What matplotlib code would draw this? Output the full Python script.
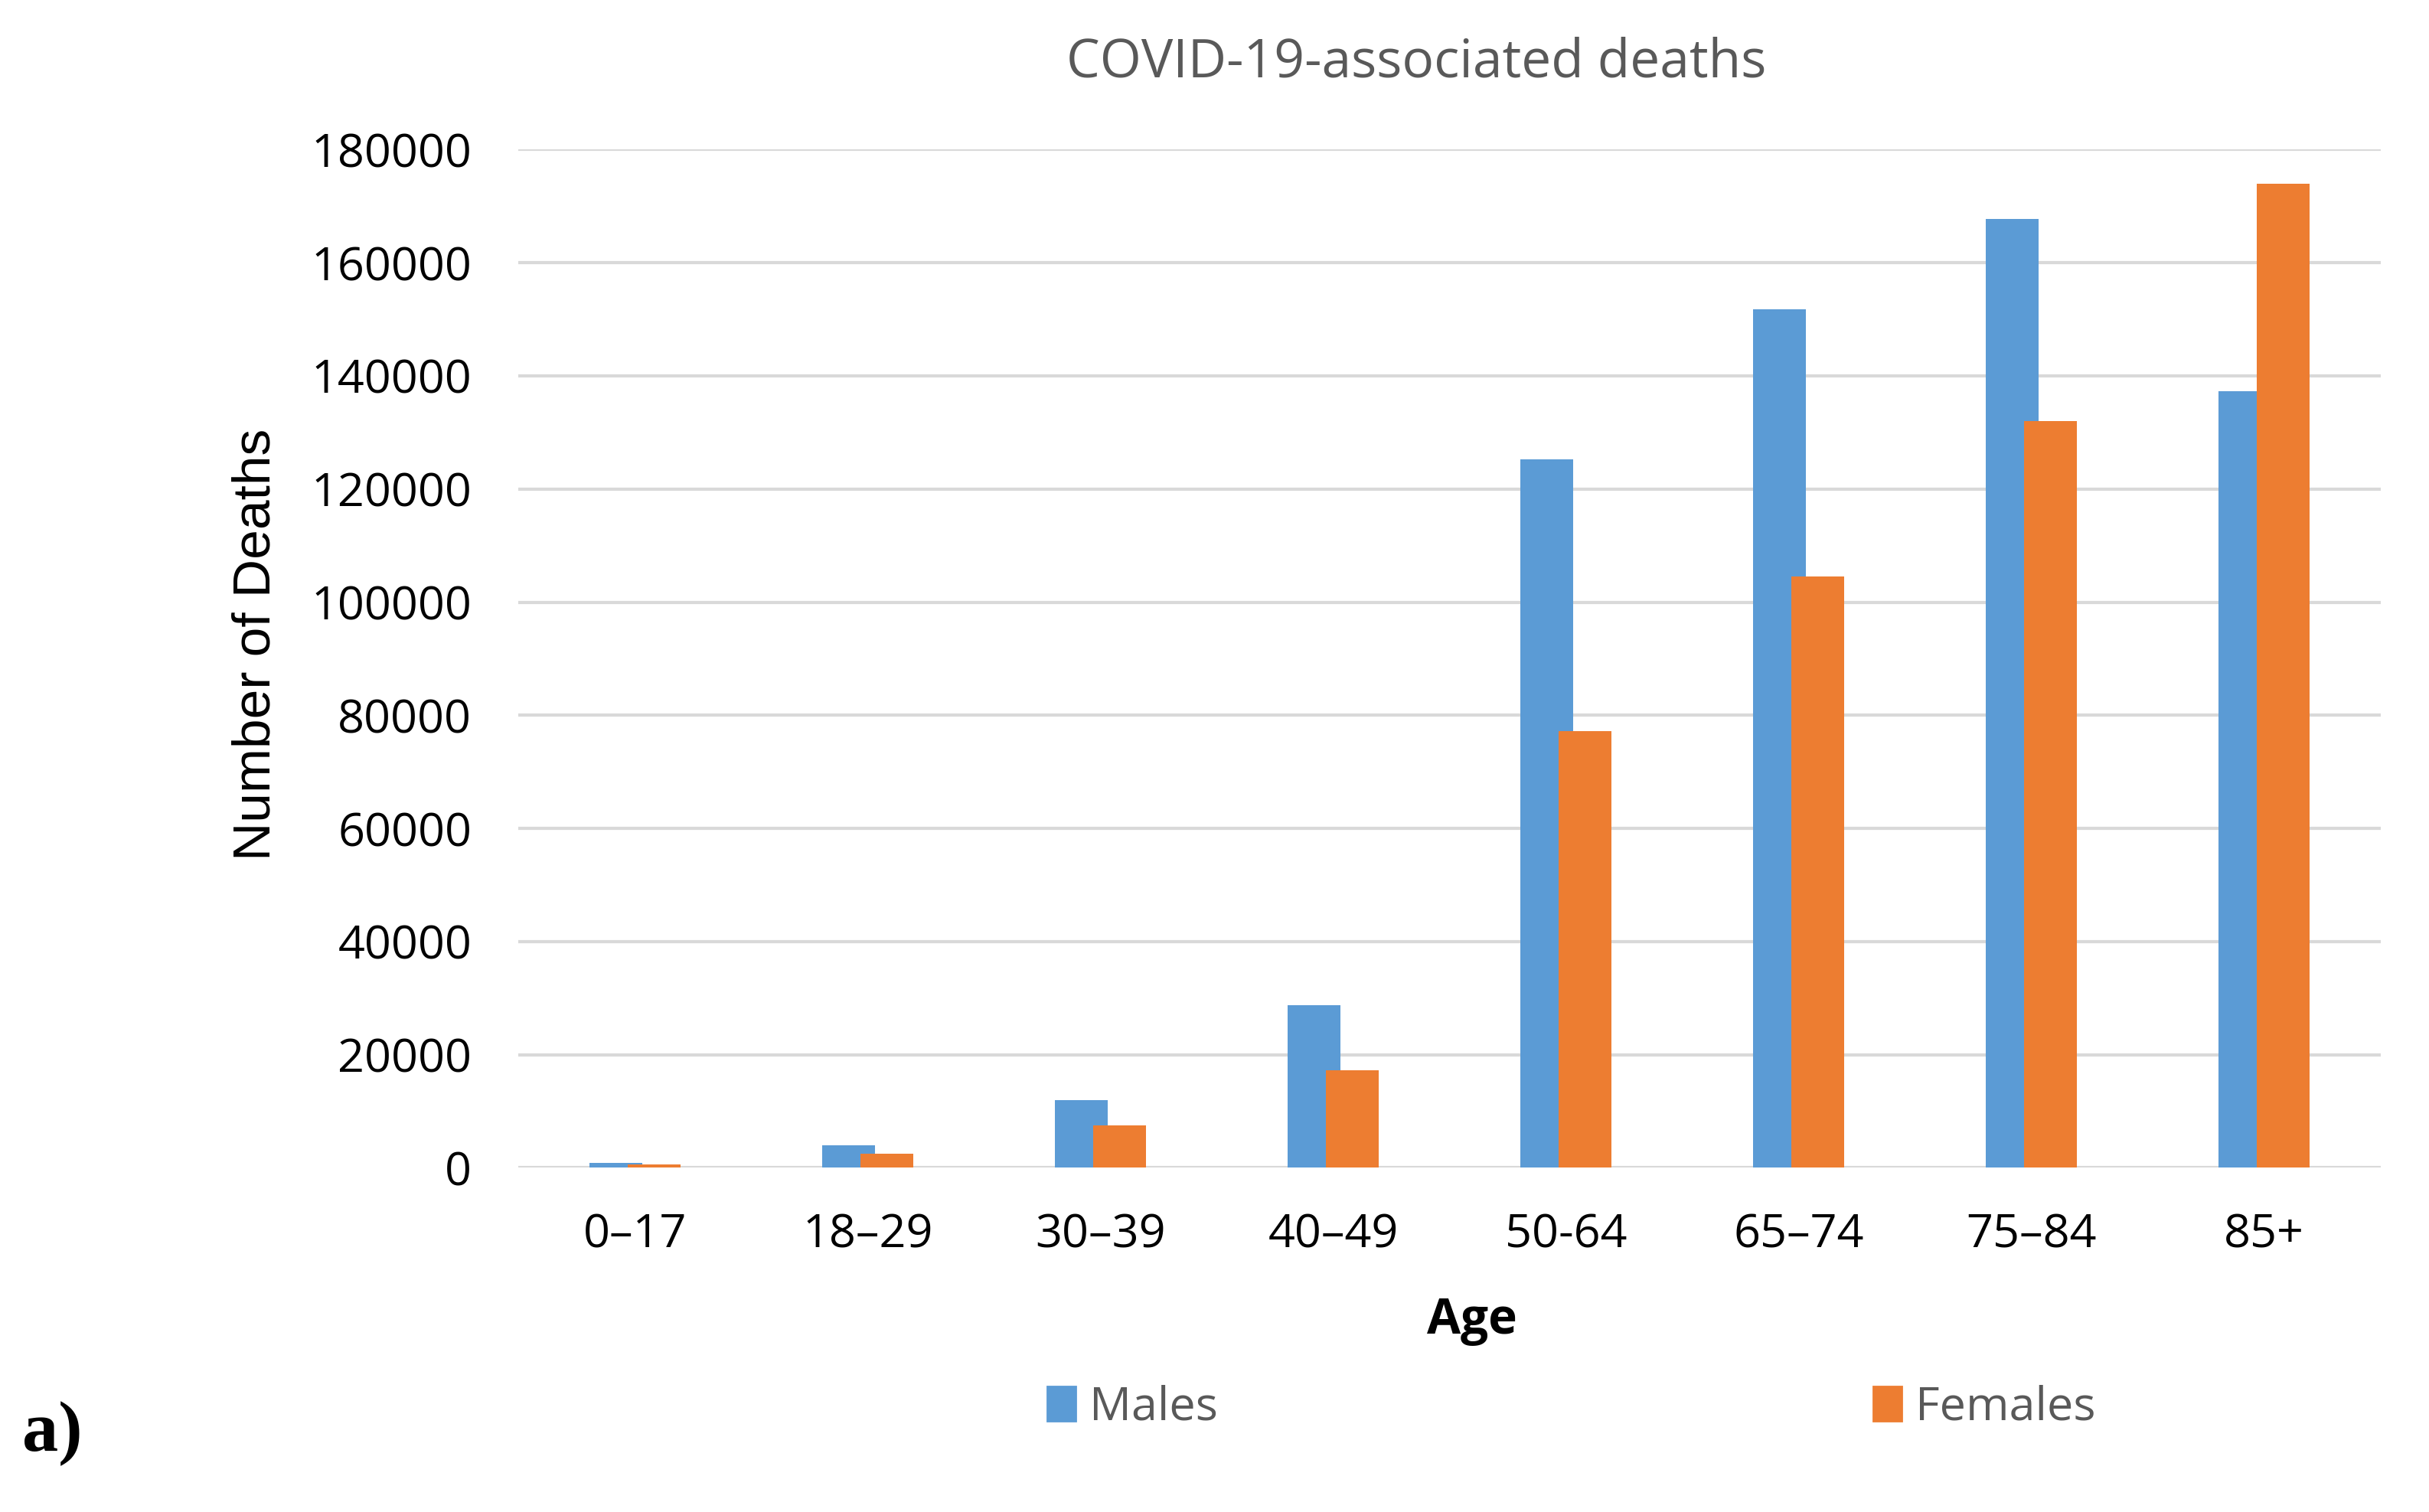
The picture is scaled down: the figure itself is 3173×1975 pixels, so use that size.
import matplotlib.pyplot as plt
from matplotlib.patches import Patch
import numpy as np

# Data
age_groups = ["0\u201317", "18\u201329", "30\u201339", "40\u201349", "50-64", "65\u201374", "75\u201384", "85+"]
males = [900, 4000, 12000, 28700, 125300, 151800, 167700, 137300]
females = [600, 2500, 7500, 17200, 77200, 104500, 132000, 174000]
y_ticks = [0, 20000, 40000, 60000, 80000, 100000, 120000, 140000, 160000, 180000]

blue = "#5B9BD5"
orange = "#ED7D31"
grey_text = "#595959"

fig = plt.figure(figsize=(15.865, 9.875), dpi=200)
ax = fig.add_axes([0.2135, 0.2276, 0.7665, 0.6735])

x = np.arange(len(age_groups))
w = 0.226
ax.bar(x - 0.083, males, width=w, color=blue, zorder=2)
ax.bar(x + 0.083, females, width=w, color=orange, zorder=3)

ax.set_xlim(-0.5, len(age_groups) - 0.5)
ax.set_ylim(0, 180000)
ax.set_yticks(y_ticks)
ax.set_yticklabels([str(v) for v in y_ticks], fontfamily="Open Sans", fontsize=22)
ax.set_xticks(x)
ax.set_xticklabels(age_groups, fontfamily="Open Sans", fontsize=22)
ax.tick_params(length=0, pad=22)
ax.tick_params(axis="x", pad=21)

# grid lines like the Excel chart
ax.grid(axis="y", color="#d9d9d9", linewidth=1.5, zorder=0)
for s in ["top", "right", "left", "bottom"]:
    ax.spines[s].set_visible(False)

ax.set_ylabel("Number of Deaths", fontfamily="Liberation Sans", fontsize=25)
ax.yaxis.set_label_coords(-0.128, 0.514)
ax.set_xlabel("Age", fontfamily="Open Sans", fontweight="bold", fontsize=23)
ax.xaxis.set_label_coords(0.512, -0.126)

fig.text(0.583, 0.958, "COVID-19-associated deaths", ha="center", va="center",
         fontfamily="Open Sans", fontsize=25, color=grey_text)

handles = [Patch(color=blue, label="Males"), Patch(color=orange, label="Females")]
leg = fig.legend(handles=handles, loc="center", bbox_to_anchor=(0.647, 0.069), ncol=2,
                 frameon=False, handlelength=0.6, handleheight=0.75, handletextpad=0.3,
                 columnspacing=14, prop={"family": "Open Sans", "size": 22})
for t in leg.get_texts():
    t.set_color(grey_text)

fig.text(0.009, 0.052, "a)", fontfamily="Liberation Serif", fontweight="bold", fontsize=34,
         ha="left", va="center")

fig.savefig("out.png", dpi=200)
